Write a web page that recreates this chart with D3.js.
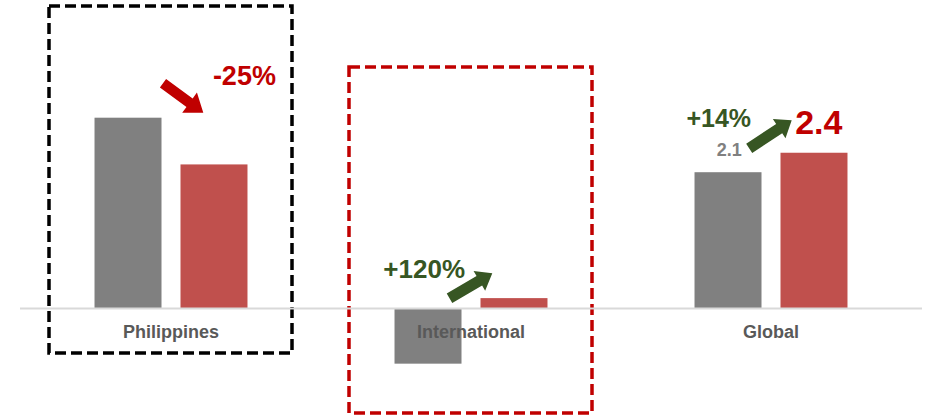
<!DOCTYPE html>
<html>
<head>
<meta charset="utf-8">
<script src="https://cdn.jsdelivr.net/npm/d3@7"></script>
<style>
  body { margin: 0; background: #fff; }
  text { font-family: "Liberation Sans", Arial, sans-serif; font-weight: bold; }
</style>
</head>
<body>
<div class="chart"></div>
<script>
// data
const categories = ["Philippines", "International", "Global"];
const series = ["prior", "current"];
const prior = [2.94, -0.85, 2.1];
const current = [2.22, 0.16, 2.4];
const changes = ["-25%", "+120%", "+14%"];
const valueLabels = ["2.1", "2.4"]; // shown on Global only

const width = 930, height = 417;
const colors = { prior: "#808080", current: "#C0504D" };

const svg = d3.select(".chart").append("svg")
    .attr("width", width)
    .attr("height", height);

const x0 = d3.scaleBand()
    .domain(categories)
    .range([21, 921]);

const x1 = d3.scaleBand()
    .domain(series)
    .range([0, x0.bandwidth()])
    .paddingInner(0.221)
    .paddingOuter(0.855);

const y = d3.scaleLinear()
    .domain([-1, 3.5])
    .range([373.4, 81.35]);

const rows = categories.map((c, i) => ({ cat: c, prior: prior[i], current: current[i] }));

// highlight boxes (drawn first, behind)
const boxes = [
    { cat: "Philippines", color: "#000000", top: 6, bottom: 353 },
    { cat: "International", color: "#C00000", top: 67, bottom: 413 }
];
svg.selectAll(".box")
    .data(boxes)
    .join("rect")
    .attr("class", "box")
    .attr("x", d => x0(d.cat) + 28)
    .attr("y", d => d.top)
    .attr("width", x0.bandwidth() - 57)
    .attr("height", d => d.bottom - d.top)
    .attr("fill", "none")
    .attr("stroke", d => d.color)
    .attr("stroke-width", 3.5)
    .attr("stroke-dasharray", "11,5");

// bars
const groups = svg.selectAll(".group")
    .data(rows)
    .join("g")
    .attr("class", "group")
    .attr("transform", d => `translate(${x0(d.cat)},0)`);

groups.selectAll("rect")
    .data(d => series.map(k => ({ key: k, value: d[k] })))
    .join("rect")
    .attr("x", d => x1(d.key))
    .attr("y", d => y(Math.max(0, d.value)))
    .attr("width", x1.bandwidth())
    .attr("height", d => Math.abs(y(d.value) - y(0)))
    .attr("fill", d => colors[d.key]);

// axis baseline
svg.append("line")
    .attr("x1", 20).attr("x2", 922)
    .attr("y1", y(0)).attr("y2", y(0))
    .attr("stroke", "#D9D9D9")
    .attr("stroke-width", 2);

// category labels
svg.selectAll(".cat")
    .data(categories)
    .join("text")
    .attr("class", "cat")
    .attr("x", d => x0(d) + x0.bandwidth() / 2)
    .attr("y", y(0) + 29)
    .attr("text-anchor", "middle")
    .attr("font-size", 18)
    .attr("fill", "#595959")
    .text(d => d);

// block arrow polygon
function arrowPath(ax, ay, bx, by, w, hw, hl) {
    const dx = bx - ax, dy = by - ay, len = Math.hypot(dx, dy);
    const ux = dx / len, uy = dy / len, nx = -uy, ny = ux;
    const bxs = bx - ux * hl, bys = by - uy * hl;
    const pts = [
        [ax + nx * w / 2, ay + ny * w / 2],
        [bxs + nx * w / 2, bys + ny * w / 2],
        [bxs + nx * hw / 2, bys + ny * hw / 2],
        [bx, by],
        [bxs - nx * hw / 2, bys - ny * hw / 2],
        [bxs - nx * w / 2, bys - ny * w / 2],
        [ax - nx * w / 2, ay - ny * w / 2]
    ];
    return "M" + pts.map(p => p.join(",")).join("L") + "Z";
}

// change annotations: arrow + percent, offsets from band start / baseline
const notes = [
    { color: "#C00000", size: 27, tx: 223.4, ty: -223.5, a: [142, -225.2, 182.3, -195.8], w: 10.5, hw: 25, hl: 17 },
    { color: "#375623", size: 26, tx: 103.2, ty: -30.5, a: [128.5, -10.2, 171.3, -35.2], w: 11, hw: 23, hl: 15 },
    { color: "#375623", size: 25, tx: 97.7, ty: -181.8, a: [128.2, -160.2, 170.7, -188.2], w: 11, hw: 23, hl: 15 }
];

categories.forEach((c, i) => {
    const n = notes[i], bx = x0(c), by = y(0);
    svg.append("path")
        .attr("d", arrowPath(bx + n.a[0], by + n.a[1], bx + n.a[2], by + n.a[3], n.w, n.hw, n.hl))
        .attr("fill", n.color);
    svg.append("text")
        .attr("x", bx + n.tx)
        .attr("y", by + n.ty)
        .attr("text-anchor", "middle")
        .attr("font-size", n.size)
        .attr("fill", n.color)
        .text(changes[i]);
});

// value labels on Global
const g = categories[2];
svg.append("text")
    .attr("x", x0(g) + x1("prior") + x1.bandwidth() / 2 + 1.3)
    .attr("y", y(prior[2]) - 16.5)
    .attr("text-anchor", "middle")
    .attr("font-size", 18)
    .attr("fill", "#808080")
    .text(valueLabels[0]);

svg.append("text")
    .attr("x", x0(g) + x1("current") + x1.bandwidth() / 2 + 4.8)
    .attr("y", y(current[2]) - 18.5)
    .attr("text-anchor", "middle")
    .attr("font-size", 34)
    .attr("fill", "#C00000")
    .text(valueLabels[1]);
</script>
</body>
</html>
